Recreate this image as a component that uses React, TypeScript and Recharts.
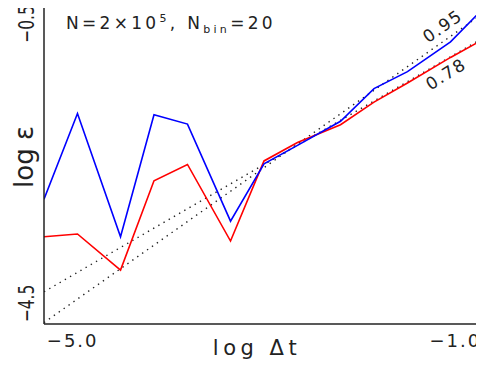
import React from 'react';
import { LineChart, Line, XAxis, YAxis } from 'recharts';

// log Δt bin centres
const logDt = [-5.3, -4.95, -4.5, -4.15, -3.8, -3.35, -3.0, -2.65, -2.2, -1.85, -1.5, -1.05, -0.7];
const blueLogEps = [-3.03, -1.82, -3.56, -1.84, -1.97, -3.34, -2.53, -2.27, -1.93, -1.47, -1.23, -0.81, -0.33];
const redLogEps = [-3.56, -3.52, -4.03, -2.77, -2.54, -3.62, -2.49, -2.23, -1.98, -1.66, -1.39, -1.03, -0.77];

// dotted power-law guides (endpoints)
const fitX = [-5.3, -0.7];
const fit95 = [-4.77, -0.40];
const fit78 = [-4.335, -0.747];

const xTicks = [-5.0, -1.0];
const yTicks = [-4.5, -0.5];

const FONT = '"DejaVu Sans", sans-serif';
const fmt = (v: number) => (v < 0 ? '\u2212' : '') + Math.abs(v).toFixed(1);

const data = logDt.map((x, i) => ({ x, blue: blueLogEps[i], red: redLogEps[i] }));
const line95 = fitX.map((x, i) => ({ x, y: fit95[i] }));
const line78 = fitX.map((x, i) => ({ x, y: fit78[i] }));

function XTick(props: any) {
  const { x, y, payload } = props;
  return (
    <text x={x} y={y + 15} textAnchor="middle" fontSize={18} letterSpacing={2} fill="#222" fontFamily={FONT}>
      {fmt(payload.value)}
    </text>
  );
}

// y labels in the original are squeezed along the text direction
function YTick(props: any) {
  const { y, payload } = props;
  const bx = 34;
  const cy = Math.max(y, 24);
  return (
    <text
      transform={`translate(${bx}, ${cy}) rotate(-90) scale(0.7, 1)`}
      textAnchor="middle"
      fontSize={22}
      fill="#222"
      fontFamily={FONT}
    >
      {fmt(payload.value)}
    </text>
  );
}

export default function App() {
  return (
    <div style={{ position: 'relative', width: 484, height: 368, margin: -8, background: '#fff', overflow: 'hidden' }}>
      <LineChart width={484} height={368} data={data} margin={{ top: 0, right: 0, bottom: 0, left: 0 }}>
        <XAxis
          dataKey="x"
          type="number"
          domain={[-5.3, -0.7]}
          ticks={xTicks}
          allowDataOverflow
          tickLine={false}
          axisLine={{ stroke: '#222', strokeWidth: 1.5 }}
          height={44}
          tick={<XTick />}
        />
        <YAxis
          type="number"
          domain={[-4.79, -0.22]}
          ticks={yTicks}
          allowDataOverflow
          tickLine={false}
          axisLine={{ stroke: '#222', strokeWidth: 1.5 }}
          width={44}
          tick={<YTick />}
        />
        <Line data={line78} dataKey="y" stroke="#222" strokeWidth={1.4} strokeDasharray="1.4 4.6" dot={false} isAnimationActive={false} />
        <Line data={line95} dataKey="y" stroke="#222" strokeWidth={1.4} strokeDasharray="1.4 4.6" dot={false} isAnimationActive={false} />
        <Line dataKey="red" stroke="#ff0000" strokeWidth={1.6} dot={false} isAnimationActive={false} />
        <Line dataKey="blue" stroke="#0000ff" strokeWidth={1.6} dot={false} isAnimationActive={false} />
      </LineChart>
      <svg width={484} height={368} style={{ position: 'absolute', left: 0, top: 0, pointerEvents: 'none' }}>
        <text x={66} y={29} fontSize={17} letterSpacing={3.3} fill="#222" fontFamily={FONT}>
          N=2×10<tspan dy={-7} fontSize={11}>5</tspan>
          <tspan dy={7}>,  N</tspan>
          <tspan dy={4} fontSize={11}>bin</tspan>
          <tspan dy={-4}>=20</tspan>
        </text>
        <text x={446} y={31} transform="rotate(-35, 446, 31)" textAnchor="middle" fontSize={17} letterSpacing={1.5} fill="#222" fontFamily={FONT}>
          0.95
        </text>
        <text x={449} y={79} transform="rotate(-32, 449, 79)" textAnchor="middle" fontSize={17} letterSpacing={1.5} fill="#222" fontFamily={FONT}>
          0.78
        </text>
        <text x={257} y={355} textAnchor="middle" fontSize={21} letterSpacing={4.5} fill="#222" fontFamily={FONT}>
          log Δt
        </text>
        <text transform="translate(33, 157) rotate(-90)" textAnchor="middle" fontSize={26} fill="#222" fontFamily={FONT}>
          log ε
        </text>
      </svg>
    </div>
  );
}
